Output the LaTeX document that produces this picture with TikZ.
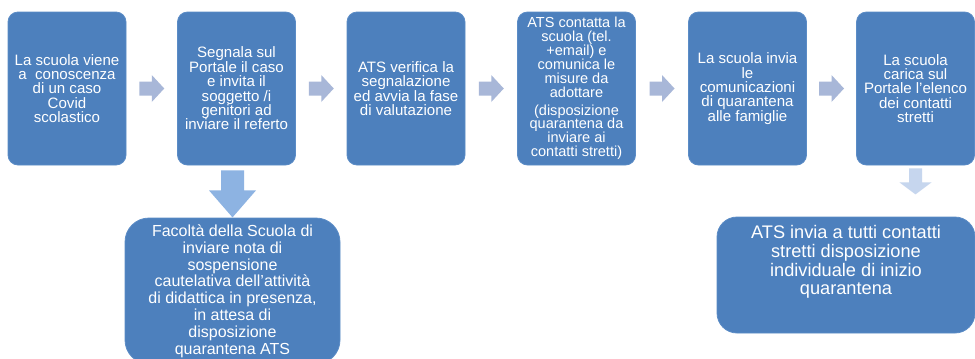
\documentclass[tikz,border=0pt]{standalone}
\usepackage{fontspec}
\setmainfont{Liberation Sans}
\usetikzlibrary{calc}
\definecolor{boxc}{HTML}{4D80BD}
\definecolor{boxe}{HTML}{5B8CC6}
\definecolor{rarrc}{HTML}{A8B7D8}
\definecolor{bigc}{HTML}{8DB3E2}
\definecolor{smallc}{HTML}{C6D6EE}
\begin{document}
\begin{tikzpicture}[x=0.75pt,y=-0.75pt,
  box/.style={draw=boxe, line width=0.6pt, fill=boxc, rounded corners=7.5pt,
    text=white, align=center, minimum width=88.5pt, minimum height=114.75pt,
    inner sep=0pt, font=\fontsize{11.3}{10.8}\selectfont},
  bigbox/.style={draw=boxe, line width=0.6pt, fill=boxc, text=white, align=center, inner sep=0pt},
  txt/.style={text=white, align=center, inner sep=0pt},
  rarr/.pic={\fill[rarrc] (-12.5,-7) -- (0,-7) -- (0,-13.5) -- (12.5,0) -- (0,13.5) -- (0,7) -- (-12.5,7) -- cycle;},
  bigdown/.pic={\fill[bigc] (-11.5,5) -- (11.5,5) -- (11.5,25) -- (23.5,25) -- (0,52) -- (-23.5,25) -- (-11.5,25) -- cycle;},
  smalldown/.pic={\fill[smallc] (-6.5,3) -- (6.5,3) -- (6.5,17) -- (16,17) -- (0,29) -- (-16,17) -- (-6.5,17) -- cycle;}
]
\useasboundingbox (0,0) rectangle (975,358);
\fill[white] (0,0) rectangle (975,358);
\clip (0,0) rectangle (975,358);

\node[box] (b1) at (67,88.5) {La scuola viene\\a\ \ conoscenza\\di un caso\\Covid\\scolastico};
\node[box] (b2) at (236.5,88.5) {Segnala sul\\Portale il caso\\e invita il\\soggetto /i\\genitori ad\\inviare il referto};
\node[box] (b3) at (406,88.5) {ATS verifica la\\segnalazione\\ed avvia la fase\\di valutazione};
\node[box, font=\fontsize{10.9}{10.4}\selectfont] (b4) at (576.5,88.5) {ATS contatta la\\scuola (tel.\\+email) e\\comunica le\\misure da\\adottare\\[3pt](disposizione\\quarantena da\\inviare ai\\contatti stretti)};
\node[box] (b5) at (747.5,88.5) {La scuola invia\\le\\comunicazioni\\di quarantena\\alle famiglie};
\node[box] (b6) at (915.5,88.5) {La scuola\\carica sul\\Portale l'elenco\\dei contatti\\stretti};

\node[bigbox, rounded corners=18pt, minimum width=161.25pt, minimum height=109.5pt,
  font=\fontsize{12}{12.6}\selectfont] (b7) at (232.5,291)
  {Facoltà della Scuola di\\inviare nota di\\sospensione\\cautelativa dell'attività\\di didattica in presenza,\\in attesa di\\disposizione\\quarantena ATS};

\node[bigbox, rounded corners=15pt, minimum width=193.5pt, minimum height=87pt] (b8) at (846,275) {};
\node[txt, font=\fontsize{13.65}{14}\selectfont] (b8t) at ($(b8.center)+(0,-13)$)
  {ATS invia a tutti contatti\\stretti disposizione\\individuale di inizio\\quarantena};

\coordinate (m1) at ($(b1.east)!0.5!(b2.west)$);
\coordinate (m2) at ($(b2.east)!0.5!(b3.west)$);
\coordinate (m3) at ($(b3.east)!0.5!(b4.west)$);
\coordinate (m4) at ($(b4.east)!0.5!(b5.west)$);
\coordinate (m5) at ($(b5.east)!0.5!(b6.west)$);
\foreach \m in {m1,m2,m3,m4,m5} { \pic at (\m) {rarr}; }

\coordinate (d1) at ($(b2.south)+(-4,0)$);
\pic at (d1) {bigdown};
\pic at (b6.south) {smalldown};
\end{tikzpicture}
\end{document}
